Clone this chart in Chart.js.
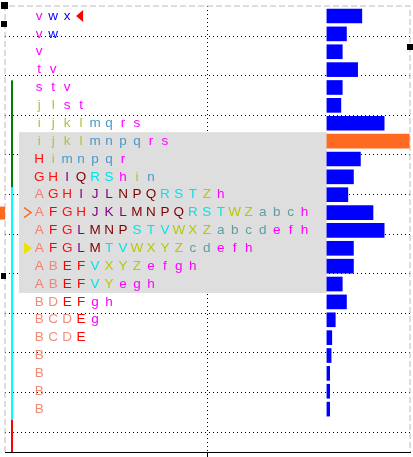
<!DOCTYPE html>
<html>
<head>
<script src="https://cdn.jsdelivr.net/npm/chart.js@4"></script>
<style>
  body { margin: 0; background: #fff; }
  #wrap { width: 413px; height: 457px; }
</style>
</head>
<body>
<div id="wrap"><canvas id="chart"></canvas></div>
<script>
// one string of TPO letters per price row, top row first
const rows = [
  'vwx', 'vw', 'v', 'tv', 'stv', 'jlst', 'ijklmqrs', 'ijklmnpqrs', 'Himnpqr',
  'GHIQRShin', 'AGHIJLNPQRSTZh', 'AFGHJKLMNPQRSTWZabch', 'AFGLMNPSTVWXZabcdefh',
  'AFGLMTVWXYZcdefh', 'ABEFVXYZefgh', 'ABEFVYegh', 'BDEFgh', 'BCDEg', 'BCDE',
  'B', 'B', 'B', 'B'
];
// volume bar length per row (x units)
const volumes = [2.5, 1.4, 1.1, 2.2, 1.1, 1.0, 4.1, 5.9, 2.4, 1.9, 1.5, 3.3, 4.1,
  1.9, 1.9, 1.1, 1.4, 0.6, 0.35, 0.3, 0.2, 0.2, 0.2];
const pocRow = 7;
const valueArea = [7, 15];        // shaded rows
const letterStart = 2.45;         // x value of first letter column
const barStart = 23.05;           // x value where volume bars start
const yGrid = [1.12, 3.34, 5.55, 7.77, 9.99, 12.2, 14.42, 16.64, 18.85, 21.07, 23.29];
const xGrid = [14.53];
// left range lines: [fromRow, toRow, colour]
const ranges = [[3.6, 9.6, 'green'], [9.6, 22.6, 'cyan'], [22.6, 24.4, 'red']];

const colours = {
  A: '#f08070', B: '#f08a78', C: '#f09080', D: '#f09080', E: '#ff0000', F: '#ff0000',
  G: '#ff1010', H: '#ff1010', I: '#800080', J: '#800080', K: '#800080', L: '#800080',
  M: '#800000', N: '#800000', P: '#800000', Q: '#800000', R: '#00e5e5', S: '#00e5e5',
  T: '#00e5e5', V: '#00e5e5', W: '#b8c800', X: '#b8c800', Y: '#b8c800', Z: '#b8c800',
  a: '#5f9ea0', b: '#5f9ea0', c: '#5f9ea0', d: '#5f9ea0', e: '#ff00ff', f: '#ff00ff',
  g: '#ff00ff', h: '#ff00ff', i: '#b0c040', j: '#b0c040', k: '#b0c040', l: '#b0c040',
  m: '#4a98c8', n: '#4a98c8', p: '#4a98c8', q: '#4a98c8', r: '#ff00ff', s: '#ff00ff',
  t: '#ff00ff', v: '#ff00ff', w: '#0000ff', x: '#0000ff'
};

const profile = {
  id: 'profile',
  beforeDatasetsDraw(chart) {
    const c = chart.ctx, x = chart.scales.x, y = chart.scales.y, a = chart.chartArea;
    c.save();
    // value area shading
    const top = y.getPixelForValue(valueArea[0] - 0.5), bot = y.getPixelForValue(valueArea[1] + 0.5);
    c.fillStyle = '#dedede';
    c.fillRect(x.getPixelForValue(1), top, x.getPixelForValue(barStart) - x.getPixelForValue(1), bot - top);
    // dashed frame
    c.strokeStyle = '#bbb';
    c.setLineDash([6, 3]);
    c.beginPath();
    c.moveTo(a.left, a.bottom); c.lineTo(a.left, a.top); c.lineTo(a.right, a.top); c.lineTo(a.right, a.bottom);
    c.stroke();
    c.restore();
  },
  afterDatasetsDraw(chart) {
    const c = chart.ctx, x = chart.scales.x, y = chart.scales.y;
    c.save();
    c.font = '13.5px "Liberation Sans", Arial, sans-serif';
    c.textAlign = 'center';
    c.textBaseline = 'middle';
    rows.forEach((r, i) => {
      [...r].forEach((ch, j) => {
        c.fillStyle = colours[ch] || '#000';
        c.fillText(ch, x.getPixelForValue(letterStart + j), y.getPixelForValue(i));
      });
    });
    // range lines on the left
    c.lineWidth = 2;
    ranges.forEach(([f, t, col]) => {
      c.strokeStyle = col;
      c.beginPath();
      c.moveTo(x.getPixelForValue(0.5), y.getPixelForValue(f));
      c.lineTo(x.getPixelForValue(0.5), y.getPixelForValue(t));
      c.stroke();
    });
    // markers
    const px = x.getPixelForValue(letterStart + 3) - 5, py = y.getPixelForValue(0);
    c.fillStyle = 'red';
    c.beginPath(); c.moveTo(px, py); c.lineTo(px + 7, py - 6); c.lineTo(px + 7, py + 6); c.fill();
    const ox = x.getPixelForValue(letterStart - 0.8), oy = y.getPixelForValue(11);
    c.strokeStyle = '#ff6a20'; c.lineWidth = 1.5;
    c.beginPath(); c.moveTo(ox - 4, oy - 5); c.lineTo(ox + 3, oy); c.lineTo(ox - 4, oy + 5); c.stroke();
    c.fillStyle = '#ff6a20';
    c.fillRect(0, oy - 6, 5, 13);
    const yx = x.getPixelForValue(letterStart - 0.8), yy = y.getPixelForValue(13);
    c.fillStyle = '#f0e000';
    c.beginPath(); c.moveTo(yx - 4, yy - 6); c.lineTo(yx + 4, yy); c.lineTo(yx - 4, yy + 6); c.fill();
    c.fillStyle = '#000';
    c.fillRect(1, 2, 7, 7);
    c.fillRect(1, 21, 6, 6);
    c.fillRect(407, 44, 6, 6);
    c.fillRect(1, 273, 5, 6);
    c.restore();
  }
};

new Chart(document.getElementById('chart'), {
  type: 'bar',
  data: {
    datasets: [{
      data: volumes.map((v, i) => ({ x: [barStart, barStart + v], y: i })),
      backgroundColor: volumes.map((v, i) => i === pocRow ? '#ff6a20' : '#0000ff'),
      barThickness: 14,
      borderSkipped: false
    }]
  },
  options: {
    indexAxis: 'y',
    responsive: true,
    maintainAspectRatio: false,
    animation: false,
    layout: { padding: { left: 5, top: 6, right: 3, bottom: 0 } },
    plugins: { legend: { display: false }, tooltip: { enabled: false } },
    scales: {
      x: {
        type: 'linear', min: 0, max: 29, offset: false,
        afterBuildTicks: s => { s.ticks = xGrid.map(v => ({ value: v })); },
        ticks: { display: false },
        grid: { color: '#000', tickLength: 5, tickColor: '#000', offset: false },
        border: { display: true, color: '#000', dash: [1, 3] }
      },
      y: {
        type: 'linear', min: -0.56, max: 24.4, reverse: true, offset: false,
        afterBuildTicks: s => { s.ticks = yGrid.map(v => ({ value: v })); },
        ticks: { display: false },
        grid: { color: '#000', drawTicks: false, offset: false },
        border: { display: false, dash: [1, 3] }
      }
    }
  },
  plugins: [profile]
});
</script>
</body>
</html>
